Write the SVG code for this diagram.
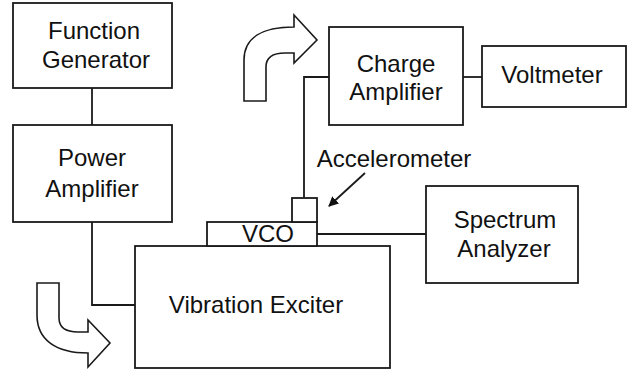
<svg xmlns="http://www.w3.org/2000/svg" width="628" height="370" viewBox="0 0 628 370">
<style>
.box{fill:#fff;stroke:#1a1a1a;stroke-width:1.8}
.ln{fill:none;stroke:#1a1a1a;stroke-width:1.8}
.bigarrow{fill:#fff;stroke:#1a1a1a;stroke-width:1.6;stroke-linejoin:miter}
text{font-family:"Liberation Sans",Arial,sans-serif;font-size:24px;fill:#111;text-anchor:middle}
</style>
<defs>
<marker id="ah" markerWidth="10" markerHeight="10" refX="9" refY="5" orient="auto" markerUnits="userSpaceOnUse" viewBox="0 0 10 10">
<path d="M0,0 L10,5 L0,10 Z" fill="#111"/>
</marker>
</defs>
<g id="connectors">
<line class="ln" x1="92" y1="88" x2="92" y2="125"/>
<polyline class="ln" points="92,222 92,305 135,305"/>
<polyline class="ln" points="304,198 304,77 329,77"/>
<line class="ln" x1="463" y1="77" x2="482" y2="77"/>
<line class="ln" x1="317" y1="234" x2="426" y2="234"/>
<line class="ln" x1="365" y1="173" x2="329" y2="206" marker-end="url(#ah)" stroke-width="1.6"/>
</g>
<g id="function-generator">
<rect class="box" x="13" y="3" width="159" height="85"/>
<text x="94" y="39">Function</text>
<text x="96" y="68">Generator</text>
</g>
<g id="power-amplifier">
<rect class="box" x="13" y="125" width="159" height="97"/>
<text x="92" y="166">Power</text>
<text x="92" y="197">Amplifier</text>
</g>
<g id="vibration-exciter">
<rect class="box" x="135" y="246" width="255" height="122"/>
<text x="256" y="313">Vibration Exciter</text>
</g>
<g id="vco">
<rect class="box" x="207" y="222" width="110" height="24"/>
<text x="268" y="242">VCO</text>
</g>
<g id="accelerometer">
<rect class="box" x="292" y="198" width="25" height="24"/>
<text x="394" y="167">Accelerometer</text>
</g>
<g id="charge-amplifier">
<rect class="box" x="329" y="27" width="134" height="98"/>
<text x="396" y="72">Charge</text>
<text x="396" y="100">Amplifier</text>
</g>
<g id="voltmeter">
<rect class="box" x="482" y="46" width="144" height="61"/>
<text x="552" y="83">Voltmeter</text>
</g>
<g id="spectrum-analyzer">
<rect class="box" x="426" y="186" width="152" height="97"/>
<text x="505" y="228">Spectrum</text>
<text x="504" y="257">Analyzer</text>
</g>
<g id="motion-arrow-top">
<path class="bigarrow" d="M244,101 L244,60 C244,38 262,27 294,27 L294,15 L317,40 L294,63 L294,53 L285,53 C274,53 266,57 266,67 L266,101 Z"/>
</g>
<g id="motion-arrow-bottom">
<path class="bigarrow" d="M37,283 L59,283 L59,318 C59,328 66,332 78,332 L88,332 L88,320 L110,343 L88,367 L88,353 C56,353 37,340 37,315 Z"/>
</g>
</svg>
